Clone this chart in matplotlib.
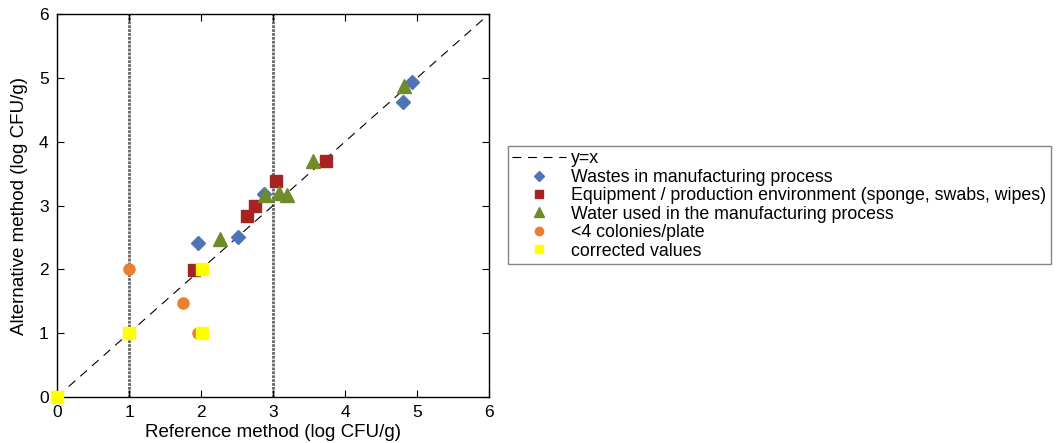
import numpy as np
import matplotlib.pyplot as plt

plt.rcParams['font.family'] = ['Liberation Sans', 'DejaVu Sans']

# data (log CFU/g)
wastes_x = [4.93, 4.80, 1.96, 2.51, 2.87]
wastes_y = [4.94, 4.63, 2.42, 2.50, 3.18]

equip_x = [3.73, 3.04, 2.75, 2.64, 1.90]
equip_y = [3.70, 3.39, 3.00, 2.83, 1.99]

water_x = [4.82, 3.55, 2.89, 3.08, 3.20, 2.26]
water_y = [4.87, 3.70, 3.17, 3.19, 3.17, 2.48]

low_x = [1.00, 1.75, 1.96]
low_y = [2.00, 1.47, 1.00]

corr_x = [0.0, 1.0, 2.01, 2.01]
corr_y = [0.0, 1.0, 2.00, 1.00]

limits = [1, 3]

fig = plt.figure(figsize=(10.56, 4.43), dpi=100)
ax = fig.add_axes([0.054, 0.104, 0.409, 0.864])

for v in limits:
    ax.axvline(v, color='#666666', lw=2.0, ls=(0, (1, 0.4)), zorder=1)

ax.plot([0, 6], [0, 6], color='black', lw=0.8, ls=(0, (8, 6)), label='y=x', zorder=2)
ax.plot(wastes_x, wastes_y, 'D', color='#4f73b6', ms=7, ls='none',
        label='Wastes in manufacturing process', zorder=3)
ax.plot(equip_x, equip_y, 's', color='#a52422', ms=8, ls='none',
        label='Equipment / production environment (sponge, swabs, wipes)', zorder=3)
ax.plot(water_x, water_y, '^', color='#6f8c28', ms=9.5, ls='none',
        label='Water used in the manufacturing process', zorder=4)
ax.plot(low_x, low_y, 'o', color='#e8802f', ms=8, ls='none',
        label='<4 colonies/plate', zorder=3)
ax.plot(corr_x, corr_y, 's', color='#ffff00', ms=8, ls='none',
        label='corrected values', zorder=5, clip_on=False)

ax.set_xlim(0, 6)
ax.set_ylim(0, 6)
ax.set_xticks(range(7))
ax.set_yticks(range(7))
ax.tick_params(direction='in', top=True, right=True, labelsize=12.5, length=5, pad=6)
ax.set_xlabel('Reference method (log CFU/g)', fontsize=13.5, labelpad=3)
ax.set_ylabel('Alternative method (log CFU/g)', fontsize=13.5, labelpad=8)
for s in ax.spines.values():
    s.set_linewidth(1.0)

handles, labels = ax.get_legend_handles_labels()
leg = fig.legend(handles, labels, loc='upper left',
                 bbox_to_anchor=(508 / 1056, 1 - 146 / 443), borderaxespad=0,
                 fontsize=12.8, frameon=True, fancybox=False,
                 edgecolor='#666666', handlelength=3.0, labelspacing=0.08,
                 borderpad=0.25, handletextpad=0.3, markerscale=0.75)
leg.get_frame().set_linewidth(1.0)

fig.savefig('out.png', dpi=100)
